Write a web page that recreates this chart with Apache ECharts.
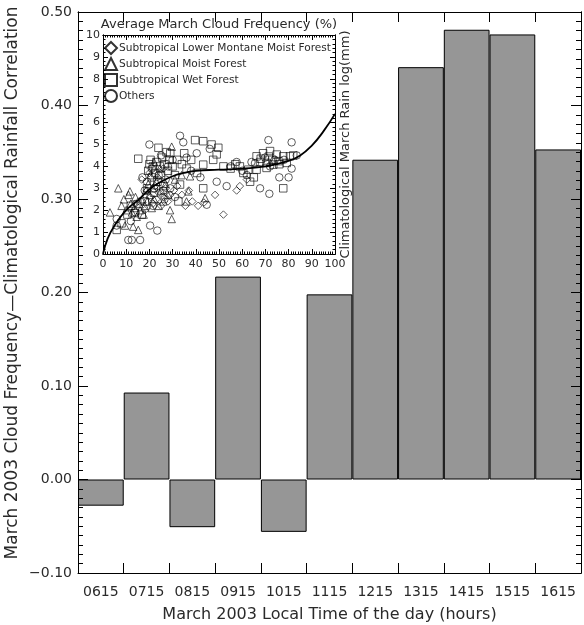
<!DOCTYPE html>
<html>
<head>
<meta charset="utf-8">
<script src="https://cdn.jsdelivr.net/npm/echarts@6/dist/echarts.min.js"></script>
<style>
  html, body { margin: 0; padding: 0; background: #fff; }
  #chart { width: 584px; height: 625px; }
</style>
</head>
<body>
<div id="chart"></div>
<script>
// hourly correlation bars
var hours = ['0615', '0715', '0815', '0915', '1015', '1115', '1215', '1315', '1415', '1515', '1615']
var correlation = [-0.028, 0.093, -0.051, 0.217, -0.056, 0.198, 0.342, 0.441, 0.481, 0.476, 0.353]

// inset scatter: [cloud frequency %, log rain]
var lowerMontane = [[16.7, 3.4], [19, 2.9], [20.5, 2.6], [21.5, 2.3], [22.5, 3.1], [23, 2.5], [24, 2.8], [25, 2.2],
  [26, 2.6], [27, 3.0], [28, 2.4], [29, 2.7], [30.5, 2.9], [32, 3.1], [34, 2.7], [35.5, 2.2], [37, 2.9], [38.5, 2.4],
  [41, 2.2], [43.5, 2.35], [48.3, 2.7], [51.9, 1.8], [57.6, 2.9], [59, 3.1], [62, 3.4], [18, 2.0], [20, 3.7],
  [23.5, 3.5], [26, 3.9], [14, 2.3]]
var moistForest = [[3, 1.9], [6.6, 3.0], [8, 2.2], [9, 2.5], [9.5, 1.3], [10, 2.0], [11, 2.7], [11.6, 2.86], [12, 2.3],
  [12.5, 1.9], [13, 1.25], [13.5, 2.1], [14, 2.6], [14.5, 1.7], [15.2, 1.1], [15.5, 2.3], [16, 2.0], [17, 2.5],
  [17.5, 1.8], [18, 2.2], [18.5, 2.9], [19, 2.4], [19.5, 3.2], [20, 2.7], [20.5, 3.6], [21, 2.1], [21.5, 3.0],
  [22, 2.5], [23, 3.3], [24, 2.2], [25, 2.9], [26, 2.4], [27, 3.2], [28, 2.7], [28.9, 2.0], [29.6, 1.6], [29.6, 4.9],
  [31, 3.4], [33.9, 3.6], [36, 2.4], [36.8, 2.86], [37.5, 3.55], [44, 2.55], [22, 4.2], [24.5, 3.9]]
var wetForest = [[5.9, 1.1], [8, 1.4], [10.5, 1.8], [12, 2.2], [13.8, 1.87], [15.2, 4.35], [16.7, 1.8], [18, 2.4],
  [19, 3.0], [19.5, 3.8], [20, 4.1], [20.5, 4.3], [21, 3.5], [21.5, 4.0], [22, 2.8], [22.5, 3.7], [23, 4.2], [23.5, 3.3],
  [23.9, 4.85], [24.5, 4.0], [25, 3.6], [25.5, 4.4], [26, 3.1], [26.5, 4.1], [27.4, 4.65], [28, 3.8], [28.5, 4.3],
  [29, 4.6], [30, 4.0], [31, 3.6], [32, 4.3], [32.5, 2.4], [33.2, 3.17], [34, 4.1], [35, 4.6], [36, 3.9], [38, 4.3],
  [39.7, 5.2], [40.5, 3.7], [43.2, 5.15], [43.2, 4.08], [43.2, 3.0], [46.8, 5.0], [47.5, 4.3], [49, 4.55], [49.7, 4.85],
  [51.9, 4.0], [55, 3.9], [57, 4.1], [59, 4.0], [60.5, 3.7], [62.6, 3.85], [63.4, 3.3], [65, 3.5], [66.2, 4.46],
  [66.2, 3.85], [67.7, 4.2], [69, 4.6], [70.5, 4.16], [70.5, 3.93], [72, 4.7], [73.4, 4.08], [74.9, 4.54], [75.6, 4.24],
  [77.7, 4.46], [77.7, 3.0], [79.2, 4.16], [80.6, 4.46], [68, 4.35], [71.5, 4.45], [73, 4.3], [76, 4.1], [82, 4.5]]
var others = [[5.9, 1.3], [5.9, 1.6], [10.9, 0.64], [12.4, 0.64], [16, 0.64], [12, 1.5], [14, 1.9], [16, 2.4], [18, 2.9],
  [19, 3.3], [20, 5.0], [20.3, 1.3], [21, 3.9], [22, 3.0], [23.4, 1.07], [24, 3.6], [25, 4.5], [26, 2.9], [27, 3.4],
  [28, 4.0], [29, 3.0], [30, 4.3], [31, 2.6], [33.2, 5.4], [34.6, 5.1], [36, 4.4], [38, 3.8], [40.4, 4.6], [42, 3.5],
  [44.7, 2.25], [46, 4.8], [49, 3.3], [53.3, 3.1], [55, 4.0], [57.6, 4.2], [60, 3.8], [62, 3.6], [64, 4.2], [65.5, 4.15],
  [67.7, 3.0], [69.8, 4.4], [71.3, 5.2], [71.7, 2.75], [72, 4.0], [74, 4.3], [76, 3.5], [78, 4.3], [80, 3.5], [81.3, 5.1],
  [81.3, 3.9], [83.5, 4.5], [17, 3.5], [21.5, 2.2], [26.5, 2.5]]

// fitted curve
var fitX = [0, 2, 5, 10, 15, 20, 25, 30, 35, 40, 50, 60, 70, 80, 85, 90, 95, 100]
var fitY = [0, 0.7, 1.3, 2.0, 2.45, 2.95, 3.3, 3.55, 3.7, 3.8, 3.85, 3.9, 4.0, 4.25, 4.5, 4.95, 5.6, 6.4]

var font = 'DejaVu Sans'
var ink = '#2a2a2a'

var chart = echarts.init(document.getElementById('chart'))

function hollow(name, symbol, data) {
    return {
        name: name,
        type: 'scatter',
        xAxisIndex: 2,
        yAxisIndex: 2,
        symbol: symbol,
        symbolSize: 7.5,
        data: data,
        itemStyle: { color: 'rgba(255,255,255,0)', borderColor: '#000', borderWidth: 0.8 },
        z: 3
    }
}

// value axis with only inward ticks, used for the major and minor tick marks
function valueAxis(grid, min, max, step, pos, len, extra) {
    return Object.assign({
        gridIndex: grid, type: 'value', min: min, max: max, interval: step, position: pos,
        axisLine: { show: true, onZero: false, lineStyle: { color: '#000', width: 1 } },
        axisTick: { show: true, inside: true, length: len, lineStyle: { color: '#000', width: 1 } },
        splitLine: { show: false },
        axisLabel: { show: false },
        z: 5
    }, extra || {})
}

function catAxis(pos, extra) {
    return Object.assign({
        gridIndex: 0, type: 'category', data: hours, position: pos,
        axisLine: { show: true, onZero: false, lineStyle: { color: '#000', width: 1 } },
        axisTick: { show: true, inside: true, length: 10, interval: 0, lineStyle: { color: '#000', width: 1 } },
        axisLabel: { show: false },
        z: 5
    }, extra || {})
}

chart.setOption({
    backgroundColor: '#fff',
    animation: false,
    grid: [
        { left: 78, top: 12, right: 3, bottom: 52, outerBoundsMode: 'none' },
        { left: 103, top: 35, width: 232, height: 219, outerBoundsMode: 'none' }
    ],
    legend: {
        orient: 'vertical',
        left: 104,
        top: 41,
        padding: 0,
        itemWidth: 12,
        itemHeight: 12,
        itemGap: 2,
        textStyle: { fontFamily: font, fontSize: 10.6, color: ink, padding: [0, 0, 0, -3], lineHeight: 13 },
        data: ['Subtropical Lower Montane Moist Forest', 'Subtropical Moist Forest', 'Subtropical Wet Forest', 'Others']
    },
    graphic: [{
        type: 'text',
        x: 13,
        y: 283,
        rotation: Math.PI / 2,
        style: {
            text: 'March 2003 Cloud Frequency\u2014Climatological Rainfall Correlation',
            fontFamily: font, fontSize: 17, fill: ink,
            align: 'center', verticalAlign: 'middle'
        }
    }],
    xAxis: [
        catAxis('bottom', {
            axisLabel: { show: true, interval: 0, fontFamily: font, fontSize: 14, color: ink, margin: 12 },
            name: 'March 2003 Local Time of the day (hours)',
            nameLocation: 'middle', nameGap: 34,
            nameTextStyle: { fontFamily: font, fontSize: 16, color: ink }
        }),
        catAxis('top'),
        valueAxis(1, 0, 100, 10, 'bottom', 5, {
            axisLabel: { show: true, fontFamily: font, fontSize: 11, color: ink, margin: 5 }
        }),
        valueAxis(1, 0, 100, 10, 'top', 5, {
            name: 'Average March Cloud Frequency (%)',
            nameLocation: 'middle', nameGap: 4,
            nameTextStyle: { fontFamily: font, fontSize: 13, color: ink, verticalAlign: 'bottom' }
        }),
        valueAxis(1, 0, 100, 1, 'bottom', 2.5),
        valueAxis(1, 0, 100, 1, 'top', 2.5)
    ],
    yAxis: [
        valueAxis(0, -0.1, 0.5, 0.1, 'left', 10, {
            axisLabel: {
                show: true, fontFamily: font, fontSize: 14, color: ink, margin: 6,
                formatter: function (v) { return v.toFixed(2).replace('-', '\u2212') }
            }
        }),
        valueAxis(0, -0.1, 0.5, 0.1, 'right', 10),
        valueAxis(1, 0, 10, 1, 'left', 5, {
            axisLabel: { show: true, fontFamily: font, fontSize: 11, color: ink, margin: 3 }
        }),
        valueAxis(1, 0, 10, 1, 'right', 5, {
            name: 'Climatological March Rain log(mm)',
            nameLocation: 'middle', nameRotate: 90, nameGap: 4,
            nameTextStyle: { fontFamily: font, fontSize: 13, color: ink, verticalAlign: 'top' }
        }),
        valueAxis(0, -0.1, 0.5, 0.01, 'left', 5),
        valueAxis(0, -0.1, 0.5, 0.01, 'right', 5),
        valueAxis(1, 0, 10, 0.2, 'left', 2.5),
        valueAxis(1, 0, 10, 0.2, 'right', 2.5)
    ],
    series: [
        {
            name: 'correlation',
            type: 'bar',
            xAxisIndex: 0,
            yAxisIndex: 0,
            data: correlation,
            barCategoryGap: '0%',
            itemStyle: { color: '#969696', borderColor: '#000', borderWidth: 1 },
            z: 1
        },
        hollow('Subtropical Lower Montane Moist Forest', 'diamond', lowerMontane),
        hollow('Subtropical Moist Forest', 'triangle', moistForest),
        hollow('Subtropical Wet Forest', 'rect', wetForest),
        hollow('Others', 'circle', others),
        {
            name: 'fit',
            type: 'line',
            xAxisIndex: 2,
            yAxisIndex: 2,
            smooth: true,
            showSymbol: false,
            data: fitX.map(function (x, i) { return [x, fitY[i]] }),
            lineStyle: { color: '#000', width: 1.8 },
            z: 4
        }
    ]
})
</script>
</body>
</html>
